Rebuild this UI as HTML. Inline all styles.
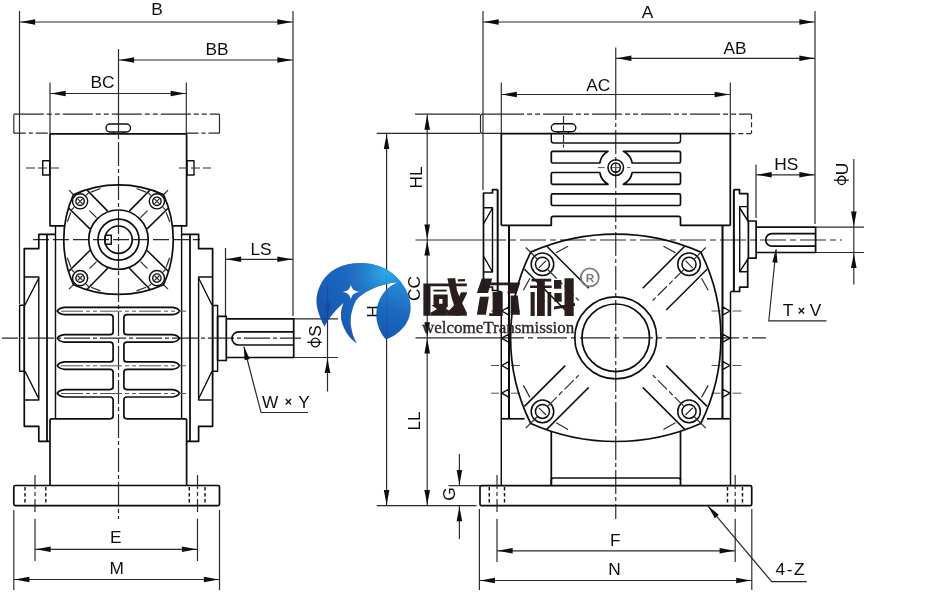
<!DOCTYPE html>
<html><head><meta charset="utf-8"><title>Worm gearbox dimensions</title>
<style>
html,body{margin:0;padding:0;background:#fff;}
body{width:930px;height:600px;overflow:hidden;font-family:"Liberation Sans",sans-serif;}
svg{display:block;}
.k{fill:none;stroke:#0b0b0b;stroke-width:1.7;stroke-linejoin:round;stroke-linecap:butt;}
.m{fill:none;stroke:#101010;stroke-width:1.4;stroke-linejoin:round;}
.n{fill:none;stroke:#2a2a2a;stroke-width:1.18;}
.g{fill:none;stroke:#555;stroke-width:1;}
.a{fill:#0a0a0a;stroke:none;}
.t{font-family:"Liberation Sans",sans-serif;fill:#111;}
.cd{stroke-dasharray:20 3 4 3;}
.hd{stroke-dasharray:4 3;}
</style></head><body>
<svg width="930" height="600" viewBox="0 0 930 600">
<defs><filter id="soft" x="0" y="0" width="930" height="600" filterUnits="userSpaceOnUse"><feGaussianBlur stdDeviation="0.32"/></filter></defs>
<rect x="0" y="0" width="930" height="600" fill="#ffffff"/>
<g filter="url(#soft)">
<g id="leftview">
<line x1="19.5" y1="11" x2="19.5" y2="304" class="n" />
<line x1="293" y1="11" x2="293" y2="316" class="n" />
<line x1="19.5" y1="22" x2="293" y2="22" class="n" />
<polygon points="20.5,22 35.1,19.2 35.1,24.8" class="a"/>
<polygon points="292.0,22 277.4,19.2 277.4,24.8" class="a"/>
<line x1="118.5" y1="49" x2="118.5" y2="114" class="n" />
<line x1="118.5" y1="60" x2="293" y2="60" class="n" />
<polygon points="119.5,60 134.1,57.2 134.1,62.8" class="a"/>
<polygon points="292.0,60 277.4,57.2 277.4,62.8" class="a"/>
<line x1="50" y1="82.5" x2="50" y2="133" class="n" />
<line x1="186.3" y1="82.5" x2="186.3" y2="133" class="n" />
<line x1="50" y1="93.5" x2="186.3" y2="93.5" class="n" />
<polygon points="51.0,93.5 65.6,90.7 65.6,96.3" class="a"/>
<polygon points="185.3,93.5 170.7,90.7 170.7,96.3" class="a"/>
<text x="157" y="15.3" font-size="17.3" text-anchor="middle" class="t" >B</text>
<text x="217" y="55.2" font-size="17.3" text-anchor="middle" class="t" >BB</text>
<text x="102.5" y="87.6" font-size="17.3" text-anchor="middle" class="t" >BC</text>
<line x1="225.5" y1="248" x2="225.5" y2="316" class="n" />
<line x1="225.5" y1="259.3" x2="293" y2="259.3" class="n" />
<polygon points="226.5,259.3 241.1,256.5 241.1,262.1" class="a"/>
<polygon points="292.0,259.3 277.4,256.5 277.4,262.1" class="a"/>
<text x="261" y="255.2" font-size="17.3" text-anchor="middle" class="t" >LS</text>
<line x1="294" y1="318.8" x2="338" y2="318.8" class="n" />
<line x1="294" y1="357.5" x2="338" y2="357.5" class="n" />
<line x1="327.5" y1="286" x2="327.5" y2="391.5" class="n" />
<polygon points="327.5,317.8 324.7,303.2 330.3,303.2" class="a"/>
<polygon points="327.5,358.5 324.7,373.1 330.3,373.1" class="a"/>
<path d="M244,347 L261,412.5 H308" class="n" />
<polygon points="243.7,346 249.72,358.9 244.69,360.21" class="a"/>
<text x="286" y="407.6" font-size="17.3" text-anchor="middle" class="t">W<tspan font-size="12.5" font-weight="bold" dy="-1.3" dx="6.3">&#215;</tspan><tspan dy="1.3" dx="6.3">Y</tspan></text>
<line x1="35" y1="518.8" x2="35" y2="561" class="n" />
<line x1="197.5" y1="518.8" x2="197.5" y2="561" class="n" />
<line x1="35" y1="549.3" x2="197.5" y2="549.3" class="n" />
<polygon points="36.0,549.3 50.6,546.5 50.6,552.1" class="a"/>
<polygon points="196.5,549.3 181.9,546.5 181.9,552.1" class="a"/>
<line x1="13.8" y1="510" x2="13.8" y2="590" class="n" />
<line x1="219.5" y1="510" x2="219.5" y2="590" class="n" />
<line x1="13.8" y1="579.5" x2="219.5" y2="579.5" class="n" />
<polygon points="14.8,579.5 29.4,576.7 29.4,582.3" class="a"/>
<polygon points="218.5,579.5 203.9,576.7 203.9,582.3" class="a"/>
<text x="115.8" y="542.6" font-size="17.3" text-anchor="middle" class="t" >E</text>
<text x="116.8" y="573.9" font-size="17.3" text-anchor="middle" class="t" >M</text>
<line x1="118.5" y1="114" x2="118.5" y2="519" class="n" stroke-dasharray="24 3 4 3" stroke-dashoffset="6"/>
<line x1="2" y1="338.2" x2="301" y2="338.2" class="n" stroke-dasharray="26 3 4 3" stroke-dashoffset="10"/>
<line x1="33" y1="239.7" x2="200" y2="239.7" class="n" stroke-dasharray="16 4"/>
<path d="M13.8,114.2 H219.5" class="n" stroke-dasharray="30 3 5 3 5 3"/>
<path d="M13.8,133.2 H50 M186.5,133.2 H219.5" class="n" stroke-dasharray="12 3 4 3"/>
<line x1="13.8" y1="114.2" x2="13.8" y2="133.2" class="n" />
<line x1="219.5" y1="114.2" x2="219.5" y2="133.2" class="n" />
<rect x="106" y="124" width="24.5" height="8" rx="4" class="m" />
<path d="M113.5,132 V133.7 M123.5,132 V133.7" class="m" />
<path d="M64,225.8 H50 V133.8 H186.6 V225.8 H173" class="k" />
<rect x="42.7" y="160.7" width="7.0" height="14.3" rx="0" class="m" />
<rect x="187" y="160.7" width="7" height="14.3" rx="0" class="m" />
<line x1="26" y1="168" x2="59" y2="168" class="n" stroke-dasharray="9 3"/>
<line x1="179" y1="168" x2="211" y2="168" class="n" stroke-dasharray="9 3"/>
<path d="M73.5,194.7 A108.7,108.7 0 0 1 163.5,194.7 A108.7,108.7 0 0 1 163.5,284.7 A108.7,108.7 0 0 1 73.5,284.7 A108.7,108.7 0 0 1 73.5,194.7 Z" class="k" />
<circle cx="118.5" cy="239.7" r="29.7" class="k" />
<circle cx="118.5" cy="239.7" r="20.5" class="k" />
<circle cx="118.5" cy="239.7" r="13.7" class="k" />
<rect x="105.3" y="235.2" width="6.0" height="9.1" rx="0" class="m" />
<circle cx="80.1" cy="201.3" r="7.6" class="m" />
<circle cx="80.1" cy="201.3" r="4.2" class="m" />
<path d="M77.5,198.7 L82.69999999999999,203.89999999999998 M77.5,203.89999999999998 L82.69999999999999,198.7" class="n" />
<line x1="87.1" y1="190.1" x2="107.7" y2="211.1" class="k" style="stroke-width:1.5" />
<line x1="68.9" y1="208.3" x2="89.9" y2="228.9" class="k" style="stroke-width:1.5" />
<line x1="69.0" y1="190.2" x2="73.3" y2="194.5" class="n" />
<line x1="89.5" y1="210.7" x2="96.5" y2="217.7" class="n" />
<line x1="91.0" y1="192.1" x2="100.5" y2="188.5" class="n" />
<line x1="70.9" y1="212.2" x2="67.3" y2="221.7" class="n" />
<line x1="86.1" y1="195.3" x2="88.7" y2="192.7" class="n" />
<line x1="74.1" y1="207.3" x2="71.5" y2="209.9" class="n" />
<circle cx="80.1" cy="278.1" r="7.6" class="m" />
<circle cx="80.1" cy="278.1" r="4.2" class="m" />
<path d="M77.5,275.49999999999994 L82.69999999999999,280.7 M77.5,280.7 L82.69999999999999,275.49999999999994" class="n" />
<line x1="87.1" y1="289.3" x2="107.7" y2="268.3" class="k" style="stroke-width:1.5" />
<line x1="68.9" y1="271.1" x2="89.9" y2="250.5" class="k" style="stroke-width:1.5" />
<line x1="69.0" y1="289.2" x2="73.3" y2="284.9" class="n" />
<line x1="89.5" y1="268.7" x2="96.5" y2="261.7" class="n" />
<line x1="91.0" y1="287.3" x2="100.5" y2="290.9" class="n" />
<line x1="70.9" y1="267.2" x2="67.3" y2="257.7" class="n" />
<line x1="86.1" y1="284.1" x2="88.7" y2="286.7" class="n" />
<line x1="74.1" y1="272.1" x2="71.5" y2="269.5" class="n" />
<circle cx="156.9" cy="201.3" r="7.6" class="m" />
<circle cx="156.9" cy="201.3" r="4.2" class="m" />
<path d="M154.3,198.7 L159.5,203.89999999999998 M154.3,203.89999999999998 L159.5,198.7" class="n" />
<line x1="149.9" y1="190.1" x2="129.3" y2="211.1" class="k" style="stroke-width:1.5" />
<line x1="168.1" y1="208.3" x2="147.1" y2="228.9" class="k" style="stroke-width:1.5" />
<line x1="168.0" y1="190.2" x2="163.7" y2="194.5" class="n" />
<line x1="147.5" y1="210.7" x2="140.5" y2="217.7" class="n" />
<line x1="146.0" y1="192.1" x2="136.5" y2="188.5" class="n" />
<line x1="166.1" y1="212.2" x2="169.7" y2="221.7" class="n" />
<line x1="150.9" y1="195.3" x2="148.3" y2="192.7" class="n" />
<line x1="162.9" y1="207.3" x2="165.5" y2="209.9" class="n" />
<circle cx="156.9" cy="278.1" r="7.6" class="m" />
<circle cx="156.9" cy="278.1" r="4.2" class="m" />
<path d="M154.3,275.49999999999994 L159.5,280.7 M154.3,280.7 L159.5,275.49999999999994" class="n" />
<line x1="149.9" y1="289.3" x2="129.3" y2="268.3" class="k" style="stroke-width:1.5" />
<line x1="168.1" y1="271.1" x2="147.1" y2="250.5" class="k" style="stroke-width:1.5" />
<line x1="168.0" y1="289.2" x2="163.7" y2="284.9" class="n" />
<line x1="147.5" y1="268.7" x2="140.5" y2="261.7" class="n" />
<line x1="146.0" y1="287.3" x2="136.5" y2="290.9" class="n" />
<line x1="166.1" y1="267.2" x2="169.7" y2="257.7" class="n" />
<line x1="150.9" y1="284.1" x2="148.3" y2="286.7" class="n" />
<line x1="162.9" y1="272.1" x2="165.5" y2="269.5" class="n" />
<path d="M55.5,234.3 H38.8 V248.6 H24.3 V426.3 H38.8 V441.3 H50" class="k" />
<line x1="47.0" y1="234.3" x2="47.0" y2="441.3" class="k" style="stroke-width:1.8" />
<line x1="55.5" y1="225.8" x2="55.5" y2="418.8" class="m" />
<path d="M24.3,277 H38.8 V400 H24.3" class="m" />
<path d="M38.8,278 L25,305 M25,371.3 L38.8,398.8" class="m" />
<rect x="19.6" y="305.3" width="4.7" height="66.0" rx="0" class="m" />
<path d="M181.6,234.3 H198.6 V248.6 H212.6 V426.3 H198.6 V441.3 H186.6" class="k" />
<line x1="190" y1="234.3" x2="190" y2="441.3" class="k" style="stroke-width:1.8" />
<line x1="181.6" y1="225.8" x2="181.6" y2="418.8" class="m" />
<path d="M212.6,277 H198.6 V400 H212.6" class="m" />
<path d="M198.6,278 L212,305 M212,371.3 L198.6,398.8" class="m" />
<rect x="212.6" y="305.5" width="5.0" height="65.8" rx="0" class="m" />
<rect x="217.6" y="316.3" width="8.7" height="44.2" rx="0" class="k" />
<path d="M226.3,318.8 H293.7 V357.5 H226.3" class="k" />
<path d="M293.7,331.8 H238.6 A6.6,6.6 0 0 0 238.6,345 H293.7" class="k" />
<path d="M118.5,307.3 L172.5,307.3 Q177.6,307.90000000000003 179.6,311.0 Q177.6,314.09999999999997 172.5,314.7 L126.9,314.7 Q123.9,314.7 123.9,317.7 L123.9,331.7 Q123.9,334.7 126.9,334.7 L172.5,334.7 Q177.6,335.3 179.6,338.4 Q177.6,341.49999999999994 172.5,342.09999999999997 L126.9,342.09999999999997 Q123.9,342.09999999999997 123.9,345.09999999999997 L123.9,358.90000000000003 Q123.9,361.90000000000003 126.9,361.90000000000003 L172.5,361.90000000000003 Q177.6,362.50000000000006 179.6,365.6 Q177.6,368.7 172.5,369.3 L126.9,369.3 Q123.9,369.3 123.9,372.3 L123.9,386.6 Q123.9,389.6 126.9,389.6 L172.5,389.6 Q177.6,390.20000000000005 179.6,393.3 Q177.6,396.4 172.5,397.0 L126.9,397.0 Q123.9,397.0 123.9,400.0 L123.9,415.8 Q123.9,418.8 126.9,418.8" class="k" />
<path d="M118.5,307.3 L64.5,307.3 Q59.2,307.90000000000003 57.2,311.0 Q59.2,314.09999999999997 64.5,314.7 L110.1,314.7 Q113.1,314.7 113.1,317.7 L113.1,331.7 Q113.1,334.7 110.1,334.7 L64.5,334.7 Q59.2,335.3 57.2,338.4 Q59.2,341.49999999999994 64.5,342.09999999999997 L110.1,342.09999999999997 Q113.1,342.09999999999997 113.1,345.09999999999997 L113.1,358.90000000000003 Q113.1,361.90000000000003 110.1,361.90000000000003 L64.5,361.90000000000003 Q59.2,362.50000000000006 57.2,365.6 Q59.2,368.7 64.5,369.3 L110.1,369.3 Q113.1,369.3 113.1,372.3 L113.1,386.6 Q113.1,389.6 110.1,389.6 L64.5,389.6 Q59.2,390.20000000000005 57.2,393.3 Q59.2,396.4 64.5,397.0 L110.1,397.0 Q113.1,397.0 113.1,400.0 L113.1,415.8 Q113.1,418.8 110.1,418.8" class="k" />
<line x1="61" y1="311.2" x2="186" y2="311.2" class="g" stroke-dasharray="22 3 4 3 4 3"/>
<line x1="61" y1="365.8" x2="186" y2="365.8" class="g" stroke-dasharray="22 3 4 3 4 3"/>
<line x1="61" y1="393.5" x2="186" y2="393.5" class="g" stroke-dasharray="22 3 4 3 4 3"/>
<path d="M50,485.5 V420.3 Q50,418.8 51.5,418.8 H110.1 M126.9,418.8 H185.1 Q186.6,418.8 186.6,420.3 V485.5" class="k" />
<rect x="13.8" y="485.5" width="205.7" height="20.1" rx="1.5" class="k" />
<line x1="25" y1="487" x2="25" y2="504.5" class="m" stroke-dasharray="3.5 2.5"/>
<line x1="45.8" y1="487" x2="45.8" y2="504.5" class="m" stroke-dasharray="3.5 2.5"/>
<line x1="189.3" y1="487" x2="189.3" y2="504.5" class="m" stroke-dasharray="3.5 2.5"/>
<line x1="205" y1="487" x2="205" y2="504.5" class="m" stroke-dasharray="3.5 2.5"/>
<line x1="35" y1="475" x2="35" y2="512" class="n" stroke-dasharray="14 3 4 3"/>
<line x1="197.5" y1="475" x2="197.5" y2="512" class="n" stroke-dasharray="14 3 4 3"/>
</g>
<g id="rightview">
<line x1="483" y1="11" x2="483" y2="190" class="n" />
<line x1="815" y1="11" x2="815" y2="224" class="n" />
<line x1="483" y1="22" x2="815" y2="22" class="n" />
<polygon points="484.0,22 498.6,19.2 498.6,24.8" class="a"/>
<polygon points="814.0,22 799.4,19.2 799.4,24.8" class="a"/>
<line x1="615.75" y1="47.5" x2="615.75" y2="114" class="n" />
<line x1="615.75" y1="58.3" x2="815" y2="58.3" class="n" />
<polygon points="616.75,58.3 631.35,55.5 631.35,61.1" class="a"/>
<polygon points="814.0,58.3 799.4,55.5 799.4,61.1" class="a"/>
<line x1="501.3" y1="82.5" x2="501.3" y2="133" class="n" />
<line x1="730.3" y1="82.5" x2="730.3" y2="133" class="n" />
<line x1="501.3" y1="94.5" x2="730.3" y2="94.5" class="n" />
<polygon points="502.3,94.5 516.9,91.7 516.9,97.3" class="a"/>
<polygon points="729.3,94.5 714.7,91.7 714.7,97.3" class="a"/>
<text x="647.5" y="17.6" font-size="17.3" text-anchor="middle" class="t" >A</text>
<text x="735" y="53.9" font-size="17.3" text-anchor="middle" class="t" >AB</text>
<text x="598.2" y="91.2" font-size="17.3" text-anchor="middle" class="t" >AC</text>
<line x1="756" y1="164.5" x2="756" y2="218" class="n" />
<line x1="756" y1="174.8" x2="815" y2="174.8" class="n" />
<polygon points="757.0,174.8 771.6,172.0 771.6,177.6" class="a"/>
<polygon points="814.0,174.8 799.4,172.0 799.4,177.6" class="a"/>
<text x="786.3" y="169.8" font-size="17.3" text-anchor="middle" class="t" >HS</text>
<line x1="816" y1="227.2" x2="864" y2="227.2" class="n" />
<line x1="816" y1="252.5" x2="864" y2="252.5" class="n" />
<line x1="853.8" y1="159" x2="853.8" y2="284.5" class="n" />
<polygon points="853.8,226.2 851.0,211.6 856.6,211.6" class="a"/>
<polygon points="853.8,253.5 851.0,268.1 856.6,268.1" class="a"/>
<path d="M776,249.5 L768.8,320.8 H826.5" class="n" />
<polygon points="776.3,248.6 777.47,262.79 772.3,262.27" class="a"/>
<text x="802" y="315.9" font-size="17.3" text-anchor="middle" class="t">T<tspan font-size="12.5" font-weight="bold" dy="-1.3" dx="4.5">&#215;</tspan><tspan dy="1.3" dx="4.5">V</tspan></text>
<line x1="415" y1="114.2" x2="480" y2="114.2" class="n" />
<line x1="376.7" y1="133.4" x2="480" y2="133.4" class="n" />
<line x1="376.7" y1="505.7" x2="476.5" y2="505.7" class="n" />
<line x1="415.5" y1="240.0" x2="484" y2="240.0" class="n" />
<line x1="415.5" y1="337.8" x2="500" y2="337.8" class="n" />
<line x1="386.6" y1="133.4" x2="386.6" y2="505.7" class="n" />
<polygon points="386.6,134.4 383.8,149.0 389.4,149.0" class="a"/>
<polygon points="386.6,504.7 383.8,490.1 389.4,490.1" class="a"/>
<line x1="427.2" y1="114.2" x2="427.2" y2="240.0" class="n" />
<polygon points="427.2,115.2 424.4,129.8 430.0,129.8" class="a"/>
<polygon points="427.2,239.0 424.4,224.4 430.0,224.4" class="a"/>
<line x1="427.2" y1="240.0" x2="427.2" y2="337.8" class="n" />
<polygon points="427.2,241.0 424.4,255.6 430.0,255.6" class="a"/>
<polygon points="427.2,336.8 424.4,322.2 430.0,322.2" class="a"/>
<line x1="427.2" y1="337.8" x2="427.2" y2="505.7" class="n" />
<polygon points="427.2,338.8 424.4,353.4 430.0,353.4" class="a"/>
<polygon points="427.2,504.7 424.4,490.1 430.0,490.1" class="a"/>
<text x="0" y="0" font-size="17.3" text-anchor="middle" class="t" transform="translate(421.6,177.5) rotate(-90)" >HL</text>
<text x="0" y="0" font-size="17.3" text-anchor="middle" class="t" transform="translate(420.2,288.5) rotate(-90)" >CC</text>
<text x="0" y="0" font-size="17.3" text-anchor="middle" class="t" transform="translate(420.2,421) rotate(-90)" >LL</text>
<text x="0" y="0" font-size="17.3" text-anchor="middle" class="t" transform="translate(379,311.5) rotate(-90)" >H</text>
<line x1="448.5" y1="485.7" x2="480" y2="485.7" class="n" />
<line x1="459.4" y1="454" x2="459.4" y2="485.7" class="n" />
<line x1="459.4" y1="505.7" x2="459.4" y2="539" class="n" />
<polygon points="459.4,484.7 456.6,470.1 462.2,470.1" class="a"/>
<polygon points="459.4,506.7 456.6,521.3 462.2,521.3" class="a"/>
<text x="0" y="0" font-size="17.3" text-anchor="middle" class="t" transform="translate(454.6,494) rotate(-90)" >G</text>
<line x1="497" y1="518.8" x2="497" y2="562" class="n" />
<line x1="735.2" y1="518.8" x2="735.2" y2="562" class="n" />
<line x1="497" y1="550.8" x2="735.2" y2="550.8" class="n" />
<polygon points="498.0,550.8 512.6,548.0 512.6,553.6" class="a"/>
<polygon points="734.2,550.8 719.6,548.0 719.6,553.6" class="a"/>
<line x1="479.4" y1="509" x2="479.4" y2="590" class="n" />
<line x1="751.8" y1="509" x2="751.8" y2="590" class="n" />
<line x1="479.4" y1="580.5" x2="751.8" y2="580.5" class="n" />
<polygon points="480.4,580.5 495.0,577.7 495.0,583.3" class="a"/>
<polygon points="750.8,580.5 736.2,577.7 736.2,583.3" class="a"/>
<text x="615.3" y="546.4" font-size="17.3" text-anchor="middle" class="t" >F</text>
<text x="614.5" y="574.6" font-size="17.3" text-anchor="middle" class="t" >N</text>
<path d="M708.5,506.6 L771.7,581.7 H806.8" class="n" />
<polygon points="707.8,505.8 718.82,514.81 714.85,518.17" class="a"/>
<text x="790.8" y="574.6" font-size="17.3" text-anchor="middle" class="t" letter-spacing="1.6">4-Z</text>
<line x1="615.75" y1="114" x2="615.75" y2="519" class="n" stroke-dasharray="24 3 4 3" stroke-dashoffset="18"/>
<line x1="484" y1="240.0" x2="842" y2="240.0" class="n" stroke-dasharray="26 4 6 4" stroke-dashoffset="4"/>
<line x1="500" y1="337.8" x2="766" y2="337.8" class="n" stroke-dasharray="30 4 5 4" stroke-dashoffset="6"/>
<path d="M494,114.2 H482.5 Q480.5,114.2 480.5,116.2 V131.4 Q480.5,133.4 482.5,133.4 H501" class="n" />
<path d="M494,114.2 H751.5" class="n" stroke-dasharray="30 3 5 3 5 3"/>
<path d="M730.3,133.6 H751.5 M751.5,114.2 V133.6" class="n" stroke-dasharray="5 3"/>
<rect x="551.3" y="123.8" width="24.5" height="8.0" rx="4" class="m" />
<path d="M558.5,131.8 V133.6 M568.5,131.8 V133.6" class="m" />
<line x1="563.5" y1="116" x2="563.5" y2="147.5" class="n" stroke-dasharray="7 2.5"/>
<path d="M501.3,225.3 V133.7 H730.3 V225.3" class="k" />
<path d="M501.3,225.3 H551.3 V218.3 Q551.3,216.3 553.3,216.3 H678.5 Q680.5,216.3 680.5,218.3 V225.3 H730.5" class="k" />
<path d="M551.3,133.7 V140.5 Q551.3,143 553.8,143 H678 Q680.5,143 680.5,140.5 V133.7" class="m" />
<rect x="551.3" y="193.8" width="129.2" height="11.7" rx="1.5" class="k" />
<path d="M608,151.3 H552.8 Q551.3,151.3 551.3,152.8 V161.5 Q551.3,163.0 552.8,163.0 H599.8 A17,17 0 0 1 608,151.3 Z" class="k" />
<path d="M623.4,151.3 H679 Q680.5,151.3 680.5,152.8 V161.5 Q680.5,163.0 679,163.0 H632.2 A17,17 0 0 0 623.4,151.3 Z" class="k" />
<path d="M608,184.3 H552.8 Q551.3,184.3 551.3,182.8 V174.0 Q551.3,172.5 552.8,172.5 H599.8 A17,17 0 0 0 608,184.3 Z" class="k" />
<path d="M623.4,184.3 H679 Q680.5,184.3 680.5,182.8 V174.0 Q680.5,172.5 679,172.5 H632.2 A17,17 0 0 1 623.4,184.3 Z" class="k" />
<circle cx="615.75" cy="167.6" r="7.8" class="k" style="stroke-width:1.5" />
<circle cx="615.75" cy="167.6" r="4.6" class="k" style="stroke-width:1.5" />
<line x1="597.8" y1="167.6" x2="604.7" y2="167.6" class="g" />
<line x1="627" y1="167.6" x2="630.5" y2="167.6" class="g" />
<line x1="611.5" y1="167.6" x2="620" y2="167.6" class="g" />
<path d="M483.5,287 V193 H492.5 V189.6 H497.7" class="k" />
<line x1="497.7" y1="189.6" x2="497.7" y2="291.5" class="k" style="stroke-width:2" />
<path d="M483.5,287 H492.5 V290.5 H497.7 M497.7,291.5 H501.3" class="k" />
<path d="M483.5,207.7 H492.5 V272 H483.5" class="m" />
<path d="M492.5,208 L483.7,223.5 M483.7,256.5 L492.5,272" class="m" />
<path d="M733.8,189.6 H739.5 V193.6 H747.7 V221 M747.7,258 V287.2 H739.6 V291.5 H730.7" class="k" />
<line x1="733.9" y1="189.6" x2="733.9" y2="291.5" class="k" style="stroke-width:2" />
<path d="M747.7,206.6 H739.7 V271.7 H747.7" class="m" />
<path d="M739.7,208 L748.6,222 M748.6,258 L739.7,271.6" class="m" />
<rect x="748.4" y="221" width="7.7" height="37.2" rx="0" class="k" />
<path d="M756.1,227.2 H815.6 V252.5 H756.1" class="k" />
<path d="M815.6,233.6 H772 A6.3,6.3 0 0 0 772,246.2 H815.6" class="k" />
<line x1="501.3" y1="291.5" x2="501.3" y2="485.7" class="k" style="stroke-width:1.45" />
<line x1="509" y1="225.3" x2="509" y2="418.8" class="k" style="stroke-width:2" />
<line x1="722.5" y1="225.3" x2="722.5" y2="418.8" class="k" style="stroke-width:2" />
<line x1="730.5" y1="291.5" x2="730.5" y2="485.7" class="k" style="stroke-width:1.45" />
<line x1="501.3" y1="418.8" x2="524.5" y2="418.8" class="k" />
<line x1="707" y1="418.8" x2="730.5" y2="418.8" class="k" />
<path d="M501.7,311.0 L509,306.8 V315.2 Z" class="m" />
<path d="M730,311.0 L722.5,306.8 V315.2 Z" class="m" />
<path d="M501.7,338.2 L509,334.0 V342.4 Z" class="m" />
<path d="M730,338.2 L722.5,334.0 V342.4 Z" class="m" />
<path d="M501.7,365.5 L509,361.3 V369.7 Z" class="m" />
<path d="M730,365.5 L722.5,361.3 V369.7 Z" class="m" />
<path d="M501.7,393.2 L509,389.0 V397.4 Z" class="m" />
<path d="M730,393.2 L722.5,389.0 V397.4 Z" class="m" />
<line x1="491" y1="311.0" x2="499" y2="311.0" class="g" />
<line x1="511" y1="311.0" x2="520" y2="311.0" class="g" />
<line x1="711.5" y1="311.0" x2="720.5" y2="311.0" class="g" />
<line x1="732.5" y1="311.0" x2="741.5" y2="311.0" class="g" />
<line x1="491" y1="365.5" x2="499" y2="365.5" class="g" />
<line x1="511" y1="365.5" x2="520" y2="365.5" class="g" />
<line x1="711.5" y1="365.5" x2="720.5" y2="365.5" class="g" />
<line x1="732.5" y1="365.5" x2="741.5" y2="365.5" class="g" />
<line x1="491" y1="393.2" x2="499" y2="393.2" class="g" />
<line x1="511" y1="393.2" x2="520" y2="393.2" class="g" />
<line x1="711.5" y1="393.2" x2="720.5" y2="393.2" class="g" />
<line x1="732.5" y1="393.2" x2="741.5" y2="393.2" class="g" />
<path d="M530.75,252.10000000000002 A209.7,209.7 0 0 1 700.75,252.10000000000002 A191.9,191.9 0 0 1 700.75,423.5 A209.7,209.7 0 0 1 530.75,423.5 A191.9,191.9 0 0 1 530.75,252.10000000000002 Z" class="k" />
<circle cx="615.75" cy="337.8" r="41" class="k" />
<circle cx="615.75" cy="337.8" r="33.8" class="k" />
<circle cx="542.45" cy="264.2" r="11.3" class="k" style="stroke-width:1.5" />
<circle cx="542.45" cy="264.2" r="7.0" class="k" style="stroke-width:1.5" />
<line x1="546.05" y1="260.6" x2="538.85" y2="267.8" class="n" />
<line x1="546.75" y1="246.2" x2="588.75" y2="288.2" class="k" style="stroke-width:1.5" />
<line x1="524.45" y1="269.2" x2="565.25" y2="310.0" class="k" style="stroke-width:1.5" />
<line x1="525.75" y1="247.5" x2="537.35" y2="259.1" class="n" />
<line x1="547.55" y1="269.3" x2="578.75" y2="300.5" class="n" stroke-dasharray="13 3 5 3"/>
<line x1="556.05" y1="252.8" x2="568.05" y2="246.2" class="n" />
<line x1="529.95" y1="278.2" x2="523.35" y2="290.2" class="n" />
<circle cx="542.45" cy="411.4" r="11.3" class="k" style="stroke-width:1.5" />
<circle cx="542.45" cy="411.4" r="7.0" class="k" style="stroke-width:1.5" />
<line x1="538.85" y1="407.8" x2="546.05" y2="415.0" class="n" />
<line x1="546.75" y1="429.4" x2="588.75" y2="387.4" class="k" style="stroke-width:1.5" />
<line x1="524.45" y1="406.4" x2="565.25" y2="365.6" class="k" style="stroke-width:1.5" />
<line x1="525.75" y1="428.1" x2="537.35" y2="416.5" class="n" />
<line x1="547.55" y1="406.3" x2="578.75" y2="375.1" class="n" stroke-dasharray="13 3 5 3"/>
<line x1="556.05" y1="422.8" x2="568.05" y2="429.4" class="n" />
<line x1="529.95" y1="397.4" x2="523.35" y2="385.4" class="n" />
<circle cx="689.05" cy="264.2" r="11.3" class="k" style="stroke-width:1.5" />
<circle cx="689.05" cy="264.2" r="7.0" class="k" style="stroke-width:1.5" />
<line x1="685.45" y1="260.6" x2="692.65" y2="267.8" class="n" />
<line x1="684.75" y1="246.2" x2="642.75" y2="288.2" class="k" style="stroke-width:1.5" />
<line x1="707.05" y1="269.2" x2="666.25" y2="310.0" class="k" style="stroke-width:1.5" />
<line x1="705.75" y1="247.5" x2="694.15" y2="259.1" class="n" />
<line x1="683.95" y1="269.3" x2="652.75" y2="300.5" class="n" stroke-dasharray="13 3 5 3"/>
<line x1="675.45" y1="252.8" x2="663.45" y2="246.2" class="n" />
<line x1="701.55" y1="278.2" x2="708.15" y2="290.2" class="n" />
<circle cx="689.05" cy="411.4" r="11.3" class="k" style="stroke-width:1.5" />
<circle cx="689.05" cy="411.4" r="7.0" class="k" style="stroke-width:1.5" />
<line x1="692.65" y1="407.8" x2="685.45" y2="415.0" class="n" />
<line x1="684.75" y1="429.4" x2="642.75" y2="387.4" class="k" style="stroke-width:1.5" />
<line x1="707.05" y1="406.4" x2="666.25" y2="365.6" class="k" style="stroke-width:1.5" />
<line x1="705.75" y1="428.1" x2="694.15" y2="416.5" class="n" />
<line x1="683.95" y1="406.3" x2="652.75" y2="375.1" class="n" stroke-dasharray="13 3 5 3"/>
<line x1="675.45" y1="422.8" x2="663.45" y2="429.4" class="n" />
<line x1="701.55" y1="397.4" x2="708.15" y2="385.4" class="n" />
<path d="M551.3,432 V485.7 M680.5,432 V485.7" class="k" />
<path d="M551.3,485.7 V480 Q551.3,478 553.3,478 H678.5 Q680.5,478 680.5,480" class="k" />
<rect x="480" y="485.7" width="271.7" height="20.0" rx="1.5" class="k" />
<line x1="489.3" y1="487" x2="489.3" y2="504.5" class="m" stroke-dasharray="3.5 2.5"/>
<line x1="504.5" y1="487" x2="504.5" y2="504.5" class="m" stroke-dasharray="3.5 2.5"/>
<line x1="727.5" y1="487" x2="727.5" y2="504.5" class="m" stroke-dasharray="3.5 2.5"/>
<line x1="742.5" y1="487" x2="742.5" y2="504.5" class="m" stroke-dasharray="3.5 2.5"/>
<line x1="497" y1="475" x2="497" y2="512" class="n" stroke-dasharray="14 3 4 3"/>
<line x1="735.2" y1="475" x2="735.2" y2="512" class="n" stroke-dasharray="14 3 4 3"/>
</g>
<text x="0" y="0" font-size="17.3" text-anchor="middle" class="t" transform="translate(320.7,331.1) rotate(-90)" >S</text>
<ellipse cx="315.4" cy="342.5" rx="4.1" ry="4.4" class="m" style="stroke-width:1.4"/>
<line x1="307.3" y1="342.3" x2="321.8" y2="342.3" class="m" style="stroke-width:1.3" />
<text x="0" y="0" font-size="17.3" text-anchor="middle" class="t" transform="translate(847.8,169.0) rotate(-90)" >U</text>
<ellipse cx="841.7" cy="180.4" rx="3.8" ry="4.2" class="m" style="stroke-width:1.4"/>
<line x1="833.8" y1="180.2" x2="848.8" y2="180.2" class="m" style="stroke-width:1.3" />
<defs>
<linearGradient id="lg1" gradientUnits="userSpaceOnUse" x1="318" y1="330" x2="400" y2="272">
<stop offset="0" stop-color="#0b449f"/><stop offset="0.35" stop-color="#1059b6"/>
<stop offset="0.75" stop-color="#1467c2"/><stop offset="1" stop-color="#1878cc"/>
</linearGradient>
<radialGradient id="rg1" gradientUnits="userSpaceOnUse" cx="386" cy="273" r="40">
<stop offset="0" stop-color="#22a8ea" stop-opacity="1"/><stop offset="0.35" stop-color="#1e94dc" stop-opacity="0.75"/>
<stop offset="1" stop-color="#1878cc" stop-opacity="0"/>
</radialGradient>
<linearGradient id="lg2" gradientUnits="userSpaceOnUse" x1="382" y1="340" x2="404" y2="284">
<stop offset="0" stop-color="#0d4fab"/><stop offset="0.55" stop-color="#1262bd"/><stop offset="1" stop-color="#1a86d6"/>
</linearGradient>
<path id="cres" d="M324.6,326.4 C321.5,321.5 318.2,313.5 316.7,305 C315,292 322,276 336,268.5 C352,260.5 374,261.5 389,271 C393.5,274 397.5,277.5 400.5,281.5 L401.5,283.5 L395.9,282.6 C385,283.5 372,288 362.5,294.5 C359.5,296.5 357.5,298.5 356,300.5 C351.5,309 350,318 351,326 C352,333 354,338.5 356.8,343.4 C350,339 344,331 341.5,321 C340.2,315 341,308.5 343.5,303 C337,308.5 329.5,317 324.6,326.4 Z"/>
</defs>
<g id="logo" opacity="0.95">
<use href="#cres" fill="url(#lg1)"/>
<use href="#cres" fill="url(#rg1)"/>
<path fill="url(#lg2)" d="M395.9,282.9 L400.3,281.2 C404.5,286 408,292.5 409.7,299.5 C411.3,306 411,313 408.3,319.5 C404,329 396,336 385.8,339.3 C381,334 377.5,326.5 376.5,318.5 C375.5,308 379,297.5 386,290 C389,287 392.2,284.6 395.9,282.9 Z"/>
<path fill="#ffffff" d="M350.9,284.6 C351.8,289.4 354.2,291.3 359.6,292 C354.2,292.7 351.8,294.6 350.9,299.6 C350,294.6 347.6,292.7 342.6,292 C347.6,291.3 350,289.4 350.9,284.6 Z"/>
</g>
<g id="wordmark" fill="#231815" opacity="0.97">
<path d="M423.37,283.62 L466.85,283.62 L466.85,286.24 L430.49,286.24 L430.49,315.85 L423.37,315.85 Z "/>
<path d="M457.86,279.27 L464.98,278.97 L464.98,281.37 L457.86,281.6 Z "/>
<path d="M433.49,289.62 L446.61,289.62 L446.61,291.57 L433.49,291.57 Z "/>
<path d="M447.36,278.37 L455.23,278.37 L456.88,289.99 L460.85,300.49 L466.85,312.86 L466.85,315.85 L457.48,315.85 L455.83,310.23 L452.23,299.74 L449.84,289.99 Z "/>
<path d="M461.08,292.24 L466.85,292.24 L466.85,293.74 L462.35,302.74 L452.98,315.85 L446.24,315.85 L446.24,313.23 L452.98,306.48 L457.86,299.36 Z "/>
<path fill-rule="evenodd" d="M433.49,294.49 L447.74,294.49 L447.74,304.99 L433.49,304.99 Z M439.12,298.99 L442.49,298.99 L442.49,303.86 L439.12,303.86 Z "/>
<path d="M431.24,304.91 L447.89,304.91 L447.89,306.18 L445.86,308.73 L449.54,310.68 L446.39,313.23 L446.39,315.85 L430.49,315.85 L430.49,312.78 L436.94,308.88 Z "/>
<path d="M452.98,307.98 L458.98,307.98 L458.98,315.85 L452.98,315.85 Z "/>
<path d="M481.7,278.4 H492.2 L488.1,293 H476.9 Z M491.1,282.5 H520.3 L516.6,293.6 H507.2 L509.7,285.2 H490.3 Z M479.9,296.7 H488.9 L485.9,314.7 H476.9 Z M492.6,291.9 H502.7 V315.9 H489.2 V313.3 H492.6 Z M510.6,295.6 H517.8 L520,314.7 H510.6 Z"/>
<path d="M531.5,278.7 H551.2 V281.5 H531.5 Z M530.1,285.6 H551.7 V287.9 H530.1 Z M537,278.7 H544.8 V315.9 H537 Z M530.6,292 H534.7 V315.9 H530.6 Z M547.5,292 H551.2 V315.9 H547.5 Z M554,280.1 H561.3 V288.8 H554 Z M554.4,293 H561.7 V301.7 H554.4 Z M564.5,278.3 H573.7 V315.9 H564.5 Z M554,306.6 L575,303 V306 L554,309.6 Z"/>
</g>
<circle cx="589.8" cy="277.4" r="9.0" fill="none" stroke="#7b7b7b" stroke-width="1.8"/>
<text x="589.9" y="281.7" font-size="11.8" font-weight="bold" text-anchor="middle" fill="#7b7b7b" style="font-family:'Liberation Sans',sans-serif">R</text>
<text x="421.9" y="333.4" font-size="17" fill="#2e2624" stroke="#2e2624" stroke-width="0.35" style="font-family:'Liberation Serif',serif">welcomeTransmission</text>
</g>
</svg>
</body></html>
